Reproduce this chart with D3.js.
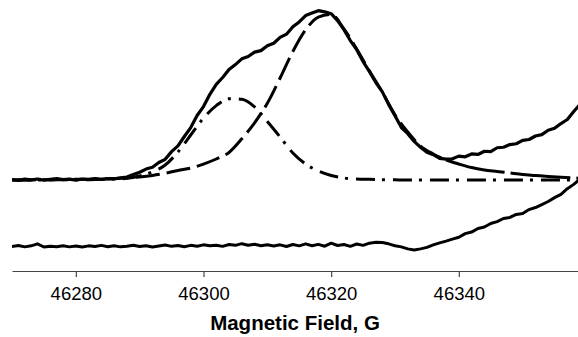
<!DOCTYPE html>
<html>
<head>
<meta charset="utf-8">
<script src="https://cdn.jsdelivr.net/npm/d3@7"></script>
<style>
  body { margin: 0; background: #fff; }
  text { font-family: "Liberation Sans", Arial, sans-serif; }
</style>
</head>
<body>
<div id="grafica"></div>
<script>
// Campo magnetico (G), muestreo del espectro
const campo = [46270,46271,46272,46273,46274,46275,46276,46277,46278,46279,
  46280,46281,46282,46283,46284,46285,46286,46287,46288,46289,
  46290,46291,46292,46293,46294,46295,46296,46297,46298,46299,
  46300,46301,46302,46303,46304,46305,46306,46307,46308,46309,
  46310,46311,46312,46313,46314,46315,46316,46317,46318,46319,
  46320,46321,46322,46323,46324,46325,46326,46327,46328,46329,
  46330,46331,46332,46333,46334,46335,46336,46337,46338,46339,
  46340,46341,46342,46343,46344,46345,46346,46347,46348,46349,
  46350,46351,46352,46353,46354,46355,46356,46357,46358,46359]

// Espectro experimental (arriba)
const experimental = [0.3,-0.2,0.5,0.1,0.6,-0.1,0.4,0.8,0.2,0.5,
  -0.1,0.6,0.3,0.9,0.4,0.8,0.7,1.3,1.8,3.2,
  4.6,6.5,7.6,10.4,12.3,16.9,20.3,25.9,31.2,38.4,
  43.7,51.0,56.9,61.0,65.8,68.7,72.1,73.5,76.1,77.0,
  79.9,81.4,84.9,86.8,91.2,94.1,97.9,99.4,100.8,100.1,
  99.0,94.9,89.5,83.0,77.6,70.5,64.5,58.0,52.6,45.0,
  38.3,31.2,27.6,23.0,19.5,16.5,15.1,12.9,12.4,12.6,
  14.2,13.8,15.5,15.2,17.1,16.9,19.2,19.5,21.1,21.6,
  23.6,24.1,26.2,27.0,29.6,30.8,33.6,36.0,40.8,45.0]

// Traza inferior
const inferior = [-39.6,-39.0,-39.8,-39.2,-38.0,-39.9,-39.4,-39.7,-39.1,-39.8,
  -39.3,-39.9,-39.2,-39.6,-38.9,-39.7,-39.1,-39.8,-39.4,-38.8,
  -39.6,-39.1,-39.9,-39.3,-38.7,-39.5,-39.0,-39.7,-38.9,-39.4,
  -38.6,-39.2,-38.8,-39.5,-38.4,-38.9,-37.9,-38.8,-38.2,-39.1,
  -38.5,-39.3,-38.6,-39.6,-38.4,-39.2,-38.0,-39.1,-38.3,-39.4,
  -37.6,-39.0,-38.4,-39.5,-38.1,-38.9,-37.6,-37.1,-37.2,-38.0,
  -39.1,-39.8,-41.0,-41.7,-41.0,-40.1,-38.6,-37.4,-36.4,-35.2,
  -34.1,-31.9,-31.0,-28.9,-28.0,-25.9,-24.8,-22.9,-22.3,-20.5,
  -19.9,-17.6,-16.4,-14.6,-12.8,-10.5,-8.6,-5.2,-2.6,0.6]

// Componentes del ajuste (cada 2 G)
const campoAjuste = [46270,46272,46274,46276,46278,46280,46282,46284,46286,46288,
  46290,46292,46294,46296,46298,46300,46302,46304,46306,46308,
  46310,46312,46314,46316,46318,46320,46322,46324,46326,46328,
  46330,46332,46334,46336,46338,46340,46342,46344,46346,46348,
  46350,46352,46354,46356,46358,46360]

const componente1 = [0,0,0,0.05,0.1,0.1,0.2,0.4,0.6,1.0,
  2.4,4.8,8.9,16.7,26.8,36.9,44.3,48.4,48.0,43.5,
  34.8,25.6,16.1,9.5,5.4,2.7,1.2,0.6,0.4,0.2,
  0.1,0,0,0,0,0,0,0,0,0,
  0,0,0,0,0,0]

const componente2 = [0,0.05,0.1,0.2,0.3,0.4,0.5,0.7,0.9,1.2,
  1.8,2.7,4.0,5.7,7.1,9.5,12.5,16.4,24.5,34.0,
  45.7,60.7,76.5,89.4,97.0,98.6,89.9,78.0,64.9,52.4,
  38.7,28.6,20.2,15.5,11.9,9.5,7.4,6.0,5.1,4.2,
  3.3,2.7,2.1,1.6,1.2,0.9]

const ticks = [46280, 46300, 46320, 46340]
const tituloX = "Magnetic Field, G"

const anchoTotal = 578
const altoTotal = 337
const ejeY = 271

const x = d3.scaleLinear().domain([46270, 46358.67]).range([12, 578])
const y = d3.scaleLinear().domain([0, 100]).range([180, 12])

const svg = d3.select("#grafica").append("svg")
    .attr("width", anchoTotal)
    .attr("height", altoTotal)

svg.append("clipPath").attr("id", "clip")
  .append("rect")
    .attr("x", 12).attr("y", 0)
    .attr("width", 566).attr("height", ejeY)

const layer = svg.append("g").attr("clip-path", "url(#clip)")

const ruido = d3.line()
    .x((d, i) => x(campo[i]))
    .y(d => y(d))

const suave = d3.line()
    .x(d => x(d[0]))
    .y(d => y(d[1]))
    .curve(d3.curveMonotoneX)

const c1 = campoAjuste.map((f, i) => [f, componente1[i]])
const c2 = campoAjuste.map((f, i) => [f, componente2[i]])

// Componente 1: punto y raya
layer.append("path")
    .attr("d", suave(c1))
    .attr("fill", "none")
    .attr("stroke", "#000")
    .attr("stroke-width", 3)
    .attr("stroke-dasharray", "19,7,3,8")

// Componente 2: rayas
layer.append("path")
    .attr("d", suave(c2.filter(d => d[0] <= 46338)))
    .attr("fill", "none")
    .attr("stroke", "#000")
    .attr("stroke-width", 3)
    .attr("stroke-dasharray", "24,7")

layer.append("path")
    .attr("d", suave(c2.filter(d => d[0] >= 46338)))
    .attr("fill", "none")
    .attr("stroke", "#000")
    .attr("stroke-width", 3)
    .attr("stroke-dasharray", "60,6")

// Experimental
layer.append("path")
    .attr("d", ruido(experimental))
    .attr("fill", "none")
    .attr("stroke", "#000")
    .attr("stroke-width", 3.2)
    .attr("stroke-linejoin", "round")

layer.append("path")
    .attr("d", ruido(inferior))
    .attr("fill", "none")
    .attr("stroke", "#000")
    .attr("stroke-width", 3)
    .attr("stroke-linejoin", "round")

// Eje
const eje = svg.append("g")
    .attr("transform", `translate(0,${ejeY})`)
    .call(d3.axisBottom(x)
      .tickValues(ticks)
      .tickFormat(d3.format("d"))
      .tickSize(6)
      .tickSizeOuter(0)
      .tickPadding(10))

eje.select(".domain").attr("stroke", "#444").attr("stroke-width", 1.2)
eje.selectAll(".tick line").attr("stroke", "#444").attr("stroke-width", 1.2)
eje.selectAll(".tick text")
    .attr("fill", "#000")
    .style("font-size", "18.5px")
    .style("font-family", "'Liberation Sans', Arial, sans-serif")

svg.append("text")
    .attr("x", 295)
    .attr("y", 330)
    .attr("text-anchor", "middle")
    .style("font-size", "20.5px")
    .style("font-weight", "bold")
    .text(tituloX)
</script>
</body>
</html>
